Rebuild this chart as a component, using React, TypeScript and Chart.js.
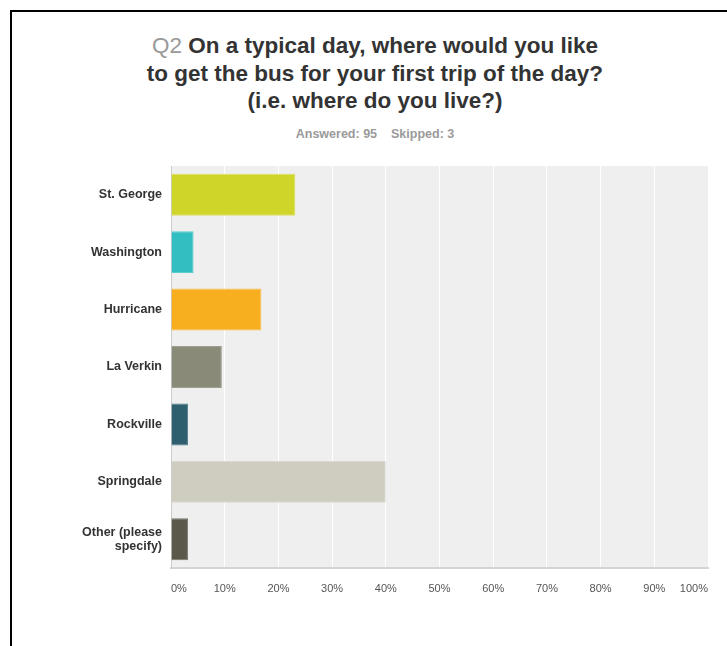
import React, { useEffect, useRef } from "react";
import { Chart, registerables } from "chart.js";

Chart.register(...registerables);

const categories: (string | string[])[] = [
  "St. George",
  "Washington",
  "Hurricane",
  "La Verkin",
  "Rockville",
  "Springdale",
  ["Other (please", "specify)"],
];
const percentValues = [23.16, 4.21, 16.84, 9.47, 3.16, 40.0, 3.16];
const barColors = ["#D0D52A", "#33BFC1", "#F7AF1F", "#8A8A78", "#2D5F6E", "#CFCDC0", "#5B5A4A"];
const barEdgeColors = ["#DCE05A", "#5ACDCF", "#F9C050", "#A0A092", "#4F7A87", "#DAD8CE", "#77766A"];
const xTicks = [0, 10, 20, 30, 40, 50, 60, 70, 80, 90, 100];
const titleQ = "Q2";
const titleLines = [
  "On a typical day, where would you like",
  "to get the bus for your first trip of the day?",
  "(i.e. where do you live?)",
];
const answeredText = "Answered: 95";
const skippedText = "Skipped: 3";

const FONT = "'Liberation Sans', Arial, Helvetica, sans-serif";

const bgPlugin = {
  id: "plotBg",
  beforeDraw(chart: any) {
    const { ctx, chartArea } = chart;
    if (!chartArea) return;
    ctx.save();
    ctx.fillStyle = "#EFEFEF";
    ctx.fillRect(chartArea.left, chartArea.top, chartArea.right - chartArea.left, chartArea.bottom - chartArea.top);
    ctx.restore();
  },
};

export default function App() {
  const canvasRef = useRef<HTMLCanvasElement | null>(null);

  useEffect(() => {
    if (!canvasRef.current) return;
    const chart = new Chart(canvasRef.current, {
      type: "bar",
      data: {
        labels: categories,
        datasets: [
          {
            data: percentValues,
            backgroundColor: barColors,
            borderColor: barEdgeColors,
            borderWidth: 1,
            barPercentage: 0.73,
            categoryPercentage: 1,
          },
        ],
      },
      plugins: [bgPlugin],
      options: {
        indexAxis: "y",
        animation: false,
        responsive: true,
        maintainAspectRatio: false,
        layout: { padding: { left: 0, right: 19, top: 0, bottom: 0 } },
        plugins: {
          legend: { display: false },
          tooltip: { enabled: false },
          title: { display: false },
        },
        scales: {
          x: {
            type: "linear",
            min: 0,
            max: 100,
            afterBuildTicks(scale: any) {
              scale.ticks = xTicks.map((v) => ({ value: v }));
            },
            afterFit(scale: any) {
              scale.height = 78;
            },
            ticks: {
              align: "inner",
              padding: 14,
              color: "#555555",
              font: { family: FONT, size: 11 },
              callback: (v: any) => v + "%",
            },
            grid: {
              color: "#FFFFFF",
              lineWidth: 1,
              drawTicks: false,
            },
            border: { color: "#D4D4D4", width: 2 },
          },
          y: {
            afterFit(scale: any) {
              scale.width = 171;
            },
            ticks: {
              padding: 9,
              color: "#333333",
              font: { family: FONT, size: 12.5, weight: "bold", lineHeight: 1.12 },
            },
            grid: { display: false, drawTicks: false },
            border: { color: "#CCCCCC", width: 1 },
          },
        },
      },
    });
    return () => chart.destroy();
  }, []);

  return (
    <div style={{ position: "absolute", left: 0, top: 0, width: 727, height: 646, overflow: "hidden", background: "#FFFFFF" }}>
      <div
        style={{
          position: "absolute",
          left: 10,
          top: 10,
          width: 717,
          height: 636,
          borderTop: "2px solid #000",
          borderLeft: "2px solid #000",
          boxSizing: "border-box",
        }}
      />
      <div
        style={{
          position: "absolute",
          left: 0,
          top: 32,
          width: 750,
          textAlign: "center",
          fontFamily: FONT,
          fontSize: 22.5,
          lineHeight: "27.5px",
          fontWeight: "bold",
          color: "#333333",
        }}
      >
        <div>
          <span style={{ color: "#999999", fontWeight: "normal" }}>{titleQ}</span> {titleLines[0]}
        </div>
        <div>{titleLines[1]}</div>
        <div>{titleLines[2]}</div>
      </div>
      <div
        style={{
          position: "absolute",
          left: 0,
          top: 127,
          width: 750,
          textAlign: "center",
          fontFamily: FONT,
          fontSize: 12.5,
          lineHeight: "15px",
          fontWeight: "bold",
          color: "#9A9A9A",
        }}
      >
        <span>{answeredText}</span>
        <span style={{ display: "inline-block", width: 14 }} />
        <span>{skippedText}</span>
      </div>
      <div style={{ position: "absolute", left: 0, top: 143, width: 727, height: 503 }}>
        <canvas ref={canvasRef} />
      </div>
    </div>
  );
}
